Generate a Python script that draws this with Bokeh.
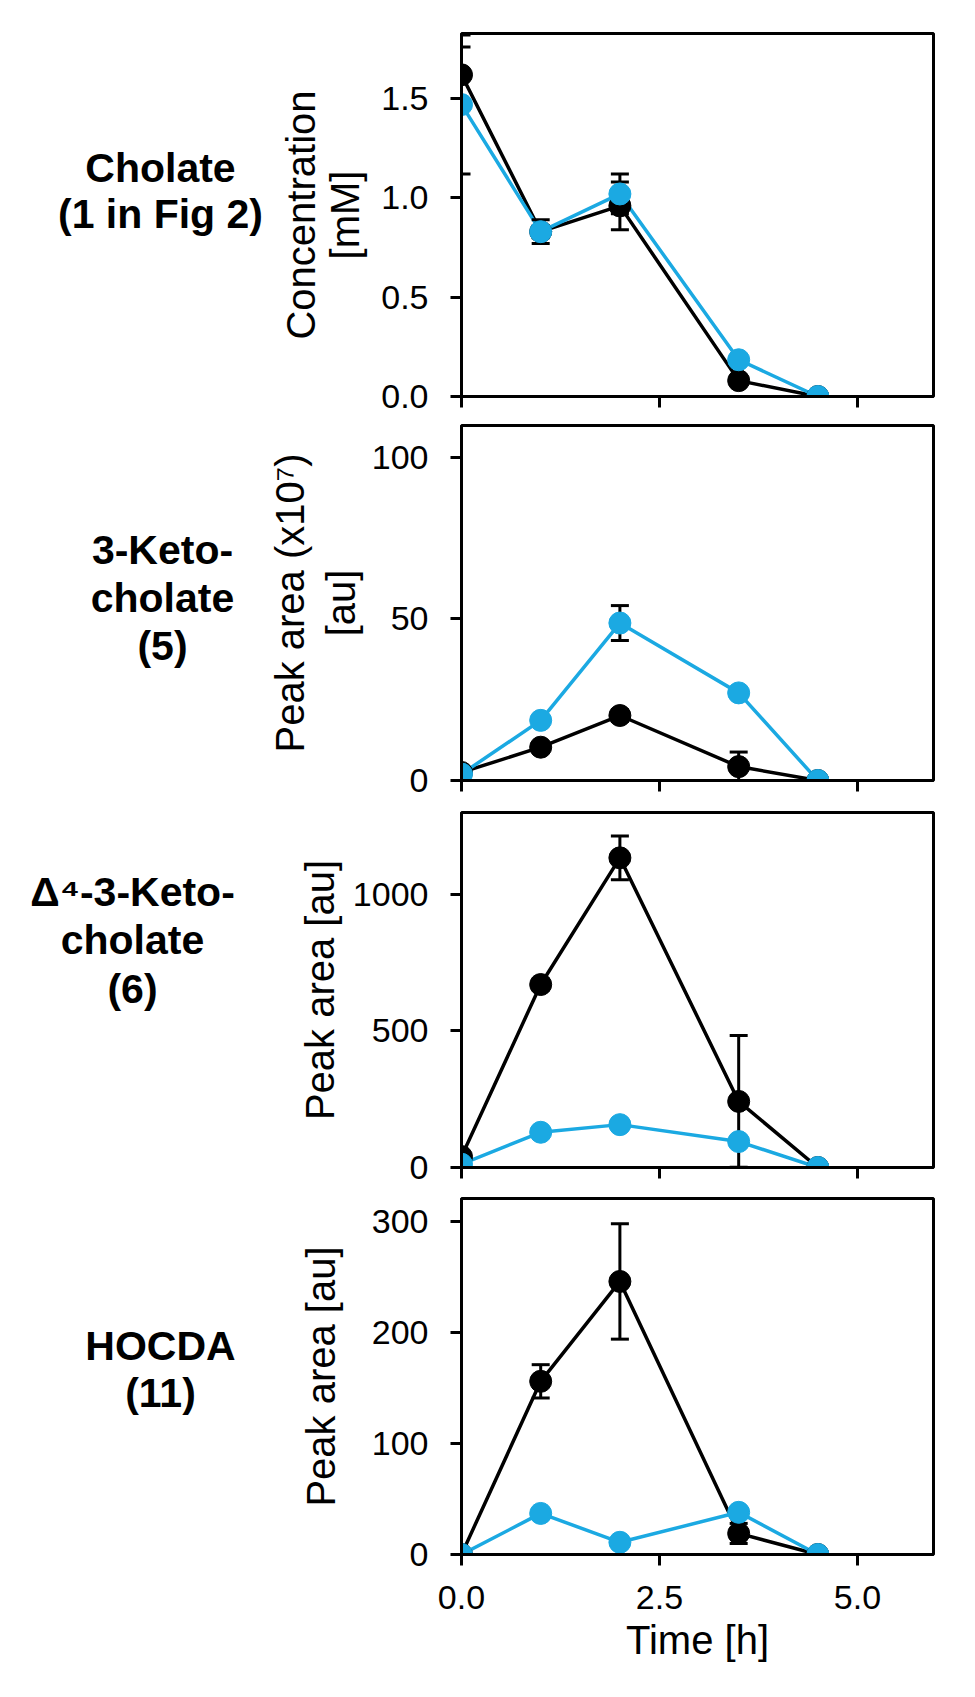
from bokeh.plotting import figure
from bokeh.layouts import column, row
from bokeh.models import Range1d, FixedTicker, NumeralTickFormatter
from bokeh.core.properties import value
from bokeh.embed import file_html
from bokeh.resources import INLINE

# ---------------- data ----------------
time_h = [0, 1, 2, 3.5, 4.5]
x_ticks = [0, 2.5, 5.0]

cholate_black = [1.62, 0.83, 0.96, 0.08, 0.0]
cholate_black_err = [0.14, 0.06, 0.12, 0.0, 0.0]
cholate_blue = [1.47, 0.83, 1.02, 0.185, 0.0]
cholate_blue_err = [0.35, 0.03, 0.10, 0.02, 0.0]

keto_black = [2.5, 10.3, 20.1, 4.3, 0.0]
keto_black_err = [0.5, 1.0, 1.8, 4.5, 0.0]
keto_blue = [2.0, 18.6, 48.7, 27.1, 0.0]
keto_blue_err = [0.5, 1.0, 5.4, 1.2, 0.0]

d4keto_black = [40, 670, 1134, 242, 0]
d4keto_black_err = [10, 20, 80, 241, 0]
d4keto_blue = [12, 129, 157, 95, 0]
d4keto_blue_err = [5, 12, 15, 8, 0]

hocda_black = [0, 156, 246, 19, 0]
hocda_black_err = [0, 15, 52, 9, 0]
hocda_blue = [0, 37, 11, 38, 0]
hocda_blue_err = [0, 2, 1, 3, 0]

name_lines = ["Cholate", "(1 in Fig 2)",
              "3-Keto-", "cholate", "(5)",
              "\u0394\u2074-3-Keto-", "cholate", "(6)",
              "HOCDA", "(11)"]
y_labels = ["Concentration\n[mM]", "Peak area (x10\u2077)\n[au]", "Peak area [au]", "Peak area [au]"]
y_ticks = [[0, 0.5, 1.0, 1.5], [0, 50, 100], [0, 500, 1000], [0, 100, 200, 300]]
y_formats = ["0.0", "0", "0", "0"]
y_max = [1.828, 109.8, 1300, 320.7]
x_label = "Time [h]"

BLUE = "#1BA9E2"
FONT = "Liberation Sans"

# ---------------- layout (pixels) ----------------
NAME_W = 265
PANEL_W = 694
row_h = [416, 384, 387, 494]
border_top = [33, 9, 12, 11]
border_bottom = [20, 20, 20, 127]
label_standoff = [11, 6, 8, 26]
label_line_h = [1.0, 1.15, 1.2, 1.2]
name_x = [160, 160, 162, 162, 162, 132, 132, 132, 160, 160]
name_base = [167, 213, 549, 597, 645, 891, 939, 988, 1345, 1392]
TOTAL_H = sum(row_h)


def name_fig():
    f = figure(width=NAME_W, height=TOTAL_H, x_range=Range1d(0, NAME_W), y_range=Range1d(TOTAL_H, 0),
               output_backend="svg", toolbar_location=None, min_border=0,
               x_axis_location=None, y_axis_location=None)
    f.grid.visible = False
    f.outline_line_color = None
    f.background_fill_color = "white"
    f.border_fill_color = "white"
    f.text(x=name_x, y=name_base, text=name_lines,
           text_font=value(FONT), text_font_style="bold", text_font_size="41px",
           text_align="center", text_baseline="alphabetic", text_color="black")
    return f


def panel(i, black, black_err, blue, blue_err):
    last = i == 3
    p = figure(width=PANEL_W, height=row_h[i], x_range=Range1d(0, 5.96), y_range=Range1d(0, y_max[i]),
               output_backend="svg", toolbar_location=None,
               min_border_left=195, min_border_right=26,
               min_border_top=border_top[i], min_border_bottom=border_bottom[i])
    p.grid.visible = False
    p.background_fill_color = "white"
    p.border_fill_color = "white"
    p.outline_line_color = "black"
    p.outline_line_width = 3
    p.outline_line_alpha = 1.0

    for ax in (p.xaxis[0], p.yaxis[0]):
        ax.axis_line_width = 3
        ax.axis_line_color = "black"
        ax.major_tick_line_width = 3
        ax.major_tick_line_color = "black"
        ax.major_tick_out = 11
        ax.major_tick_in = 0
        ax.minor_tick_line_color = None
        ax.major_label_text_font = FONT
        ax.major_label_text_font_size = "34px"
        ax.major_label_text_color = "black"
        ax.axis_label_text_font = FONT
        ax.axis_label_text_font_style = "normal"
        ax.axis_label_text_font_size = "40px"
        ax.axis_label_text_color = "black"

    if last:
        p.xaxis.ticker = FixedTicker(ticks=x_ticks)
        p.xaxis.formatter = NumeralTickFormatter(format="0.0")
        p.xaxis.major_label_standoff = 20
        p.xaxis.axis_label = x_label
        p.xaxis.axis_label_standoff = 6
    else:
        # tick marks only, no labels: draw them as minor ticks
        p.xaxis.ticker = FixedTicker(ticks=[], minor_ticks=x_ticks)
        p.xaxis.minor_tick_line_color = "black"
        p.xaxis.minor_tick_line_width = 3
        p.xaxis.minor_tick_out = 11
        p.xaxis.minor_tick_in = 0

    p.yaxis.ticker = FixedTicker(ticks=y_ticks[i])
    p.yaxis.formatter = NumeralTickFormatter(format=y_formats[i])
    p.yaxis.major_label_standoff = 22
    p.yaxis.axis_label = y_labels[i]
    p.yaxis.axis_label_standoff = label_standoff[i]
    p.yaxis.axis_label_text_line_height = label_line_h[i]

    p.line(time_h, black, line_color="black", line_width=3.5)
    p.line(time_h, blue, line_color=BLUE, line_width=3.5)

    for vals, errs in ((black, black_err), (blue, blue_err)):
        xs = [t for t, e in zip(time_h, errs) if e > 0]
        lo = [v - e for v, e in zip(vals, errs) if e > 0]
        hi = [v + e for v, e in zip(vals, errs) if e > 0]
        p.segment(x0=xs, y0=lo, x1=xs, y1=hi, line_color="black", line_width=3)
        p.scatter(xs, hi, marker="dash", size=18, line_color="black", line_width=3)
        p.scatter(xs, lo, marker="dash", size=18, line_color="black", line_width=3)

    p.scatter(time_h, black, size=22, fill_color="black", line_color="black")
    p.scatter(time_h, blue, size=22, fill_color=BLUE, line_color=BLUE)
    return p


panels = [
    panel(0, cholate_black, cholate_black_err, cholate_blue, cholate_blue_err),
    panel(1, keto_black, keto_black_err, keto_blue, keto_blue_err),
    panel(2, d4keto_black, d4keto_black_err, d4keto_blue, d4keto_blue_err),
    panel(3, hocda_black, hocda_black_err, hocda_blue, hocda_blue_err),
]

layout = row(name_fig(), column(*panels))

open("out.html", "w").write(file_html(layout, INLINE))
